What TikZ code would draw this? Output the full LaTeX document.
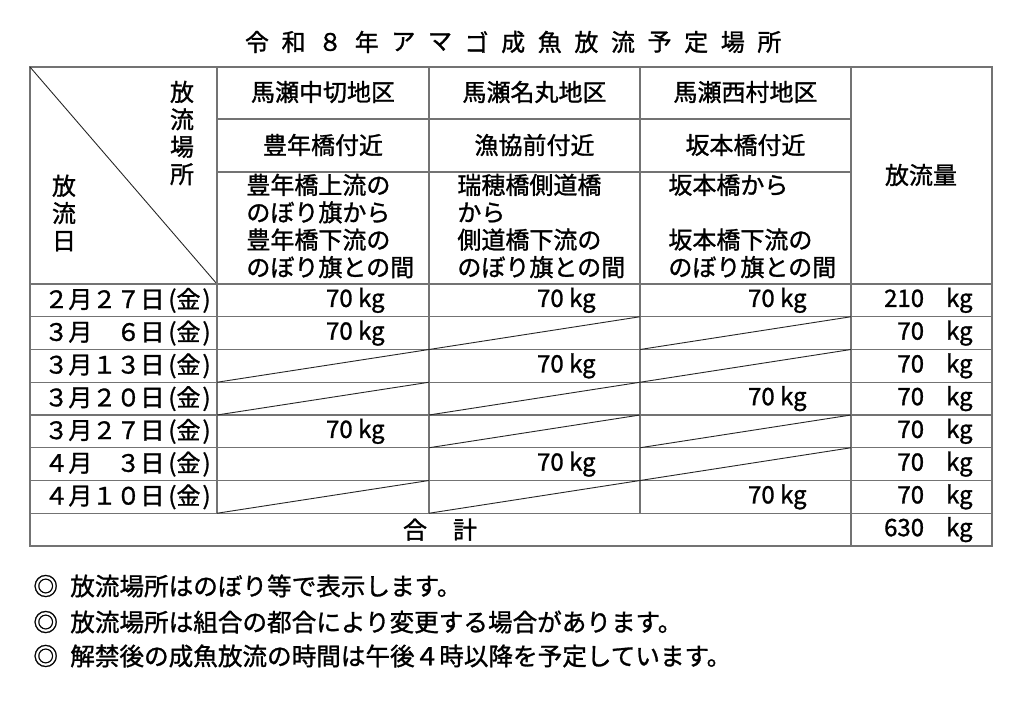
\documentclass[tikz,border=0pt]{standalone}
\usepackage{fontspec}
\setmainfont{Noto Sans CJK JP}[RawFeature={embolden=1.2}]

\begin{document}
\begin{tikzpicture}[x=0.5pt,y=-0.5pt,inner sep=0pt,
	font=\fontsize{12}{13.7}\selectfont,
	tableline/.style={black!55,line width=0.6pt},
	slashline/.style={black!85,line width=0.45pt}]
	\useasboundingbox (0,0) rectangle (1024,706);
	\foreach \ch [count=\i from 0] in {令,和,８,年,ア,マ,ゴ,成,魚,放,流,予,定,場,所}
		\node (title\i) at (257+36.6*\i,42) {\ch};
	\draw[tableline] (30,67) rectangle (992,546);
	\draw[slashline] (30,67) -- (217,284);
	\foreach \x in {217,429,640}
		\draw[tableline] (\x,67) -- (\x,513.25);
	\draw[tableline] (851,67) -- (851,546);
	\foreach \y in {119,172}
		\draw[tableline] (217,\y) -- (851,\y);
	\foreach \k in {0,...,7}
		\draw[tableline] (30,284+32.75*\k) -- (992,284+32.75*\k);
	\foreach \xa/\xb/\r in {429/640/2,640/851/2,217/429/3,640/851/3,217/429/4,429/640/4,429/640/5,640/851/5,640/851/6,217/429/7,429/640/7}
		\draw[slashline] (\xa,284+32.75*\r) -- (\xb,284+32.75*\r-32.75);
	\node[align=center] (placehead) at (182,133) {放\\流\\場\\所};
	\node[align=center] (dayhead) at (64,213) {放\\流\\日};
	\node (area1) at (323,92) {馬瀬中切地区};
	\node (area2) at (534.5,92) {馬瀬名丸地区};
	\node (area3) at (745.5,92) {馬瀬西村地区};
	\node (spot1) at (323,145) {豊年橋付近};
	\node (spot2) at (534.5,145) {漁協前付近};
	\node (spot3) at (745.5,145) {坂本橋付近};
	\node[anchor=west,align=left] (range1) at (246,226) {豊年橋上流の\\のぼり旗から\\豊年橋下流の\\のぼり旗との間};
	\node[anchor=west,align=left] (range2) at (457,226) {瑞穂橋側道橋\\から\\側道橋下流の\\のぼり旗との間};
	\node[anchor=west,align=left] (range3) at (668,226) {坂本橋から\\\mbox{}\\坂本橋下流の\\のぼり旗との間};
	\node (amount) at (921,175) {放流量};
	\foreach \d [count=\r] in {２月２７日\hspace{2pt}(金\hspace{1pt}),３月　６日\hspace{2pt}(金\hspace{1pt}),３月１３日\hspace{2pt}(金\hspace{1pt}),３月２０日\hspace{2pt}(金\hspace{1pt}),３月２７日\hspace{2pt}(金\hspace{1pt}),４月　３日\hspace{2pt}(金\hspace{1pt}),４月１０日\hspace{2pt}(金\hspace{1pt})}
		\node[anchor=west] (date\r) at (44,284+32.75*\r-16.4) {\d};
	\foreach \xb/\r in {429/1,640/1,851/1,429/2,640/3,851/4,429/5,640/6,851/7}
		\node[anchor=east] (val\xb-\r) at (\xb-44,284+32.75*\r-16.4) {70 kg};
	\foreach \t [count=\r] in {210,70,70,70,70,70,70,630}
		\node[anchor=east] (sum\r) at (973,284+32.75*\r-16.4) {\t\hspace{11pt}kg};
	\node (total) at (440,529.6) {合\hspace{13pt}計};
	\node[anchor=west,font=\fontsize{12.3}{14}\selectfont] (note1) at (33,586) {◎\hspace{0.5em}放流場所はのぼり等で表示します。};
	\node[anchor=west,font=\fontsize{12.3}{14}\selectfont] (note2) at (33,622) {◎\hspace{0.5em}放流場所は組合の都合により変更する場合があります。};
	\node[anchor=west,font=\fontsize{12.3}{14}\selectfont] (note3) at (33,656) {◎\hspace{0.5em}解禁後の成魚放流の時間は午後４時以降を予定しています。};
\end{tikzpicture}
\end{document}
